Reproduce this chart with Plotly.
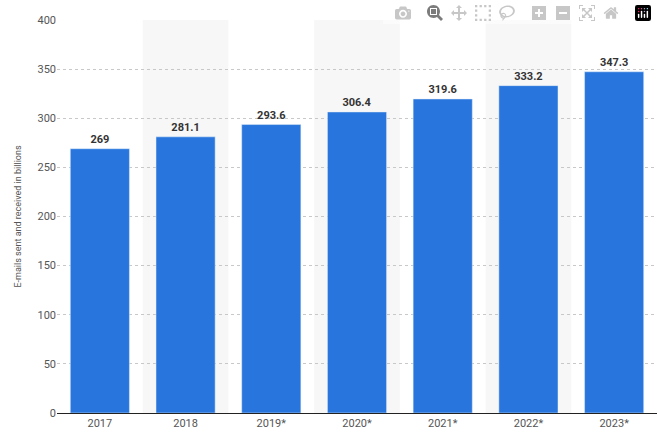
import plotly.graph_objects as go

years = ["2017", "2018", "2019*", "2020*", "2021*", "2022*", "2023*"]
emails = [269, 281.1, 293.6, 306.4, 319.6, 333.2, 347.3]
labels = ["269", "281.1", "293.6", "306.4", "319.6", "333.2", "347.3"]

fig = go.Figure()
fig.add_trace(go.Bar(
    x=years, y=emails, text=labels, textposition="outside",
    marker_color="#2876dd", width=0.69, cliponaxis=False,
    textfont=dict(family="Roboto", size=11, color="#333333", weight="bold"),
))

# light stripes behind every other category
for i in range(1, len(years), 2):
    fig.add_shape(type="rect", xref="x", yref="paper", x0=i - 0.5, x1=i + 0.5,
                  y0=0, y1=1, fillcolor="#f7f7f7", line_width=0, layer="below")

fig.update_layout(
    width=657, height=441,
    margin=dict(l=57, r=0, t=20, b=28),
    plot_bgcolor="white", paper_bgcolor="white",
    showlegend=False, bargap=0.31,
    font=dict(family="Roboto", size=11, color="#555555"),
)
fig.update_xaxes(showline=True, linecolor="#222222", linewidth=1, ticks="",
                 tickfont=dict(size=11, color="#555555"))
fig.update_yaxes(range=[0, 400], dtick=50, showgrid=True, gridcolor="#c8c8c8",
                 griddash="dot", zeroline=False, ticks="",
                 title=dict(text="E-mails sent and received in billions",
                            font=dict(size=9, color="#555555"), standoff=14),
                 tickfont=dict(size=11, color="#555555"))

fig.write_html("out.html", post_script="document.body.style.margin='0';")
